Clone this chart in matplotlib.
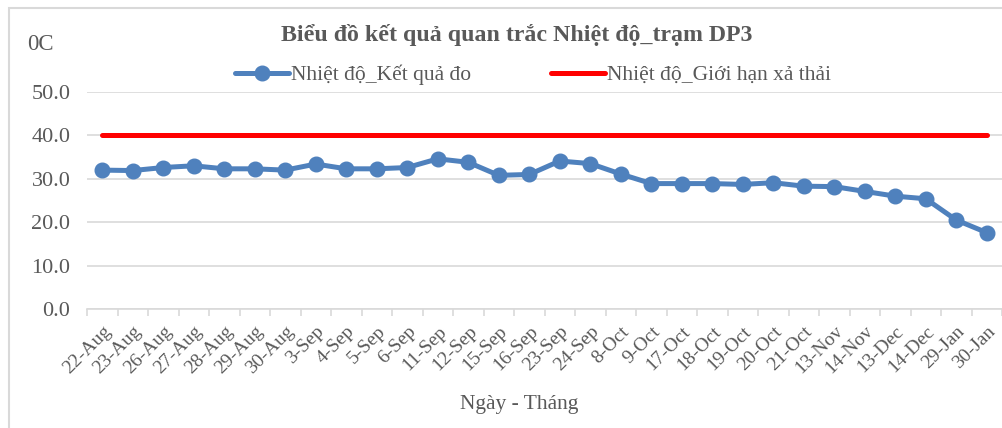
import matplotlib.pyplot as plt
from matplotlib.patches import Rectangle

plt.rcParams['font.family'] = ['Liberation Serif', 'DejaVu Serif']

# sampling dates
days = ['22-Aug', '23-Aug', '26-Aug', '27-Aug', '28-Aug', '29-Aug', '30-Aug',
        '3-Sep', '4-Sep', '5-Sep', '6-Sep', '11-Sep', '12-Sep', '15-Sep', '16-Sep',
        '23-Sep', '24-Sep', '8-Oct', '9-Oct', '17-Oct', '18-Oct', '19-Oct', '20-Oct',
        '21-Oct', '13-Nov', '14-Nov', '13-Dec', '14-Dec', '29-Jan', '30-Jan']

measured = [32.0, 31.9, 32.6, 33.0, 32.3, 32.3, 32.0, 33.4, 32.3, 32.3,
            32.6, 34.6, 33.8, 30.8, 31.0, 34.1, 33.5, 31.1, 28.9, 28.9,
            28.9, 28.7, 29.1, 28.3, 28.2, 27.1, 26.0, 25.4, 20.5, 17.6]

# discharge limit
limit = [40.0] * len(days)

yticks = [0, 10, 20, 30, 40, 50]

text_col = '#595959'
grid_col = '#D9D9D9'

fig = plt.figure(figsize=(10.02, 4.28), dpi=100)
ax = fig.add_axes([87 / 1002, 119 / 428, 915 / 1002, 217 / 428])

x = list(range(len(days)))
l1, = ax.plot(x, measured, color='#4F81BD', lw=3.6, marker='o', ms=10.5,
              solid_capstyle='round', label='Nhiệt độ_Kết quả đo', zorder=3)
l2, = ax.plot(x, limit, color='#FF0000', lw=3.6, solid_capstyle='round',
              label='Nhiệt độ_Giới hạn xả thải', zorder=2)

ax.set_xlim(-0.5, len(days) - 0.5)
ax.set_ylim(0, 50)
ax.set_yticks(yticks)
ax.set_yticklabels([f'{v:.1f}' for v in yticks], fontsize=16, color=text_col)
ax.tick_params(axis='y', length=0, pad=12)
ax.yaxis.grid(True, color=grid_col, lw=1.2)
ax.set_axisbelow(True)

# ticks at category boundaries, labels at centres
ax.set_xticks([i - 0.5 for i in range(len(days) + 1)], minor=False)
ax.set_xticklabels([])
ax.set_xticks(x, minor=True)
ax.set_xticklabels(days, minor=True, rotation=45, ha='right', va='top',
                   rotation_mode='anchor', fontsize=14, color=text_col)
ax.tick_params(axis='x', which='major', length=5, color=grid_col, width=1.2)
ax.tick_params(axis='x', which='minor', length=0, pad=10)

for s in ['left', 'right', 'top']:
    ax.spines[s].set_visible(False)
ax.spines['bottom'].set_color(grid_col)
ax.spines['bottom'].set_linewidth(1.2)

fig.text(517 / 1002, 1 - 35 / 428, 'Biểu đồ kết quả quan trắc Nhiệt độ_trạm DP3',
         ha='center', va='center', fontsize=17.2, fontweight='bold', color=text_col)
fig.text(27 / 1002, 1 - 44 / 428, '0C', ha='left', va='center', fontsize=16.5, color=text_col)
fig.text(519 / 1002, 1 - 405 / 428, 'Ngày - Tháng', ha='center', va='center',
         fontsize=15.5, color=text_col)

leg = fig.legend(handles=[l1, l2], loc='center', bbox_to_anchor=(533 / 1002, 1 - 75 / 428),
                 ncol=2, frameon=False, fontsize=15.5, handlelength=2.5,
                 handletextpad=0.1, columnspacing=3.7, labelcolor=text_col)

# chart area border
fig.patches.append(Rectangle((9 / 1002, -0.1), 1.2, 1 - 8 / 428 + 0.1,
                             transform=fig.transFigure, fill=False,
                             edgecolor=grid_col, lw=1.5))

fig.savefig('out.png', dpi=100)
